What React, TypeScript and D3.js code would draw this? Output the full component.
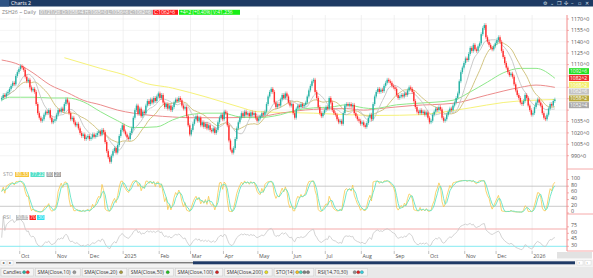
import React from "react";
import * as d3 from "d3";

// ---------- DATA ----------
const startDate = new Date(2024, 8, 13); // first bar (weekdays only)
const closes: number[] = [
  1066, 1070, 1068, 1072, 1074, 1078, 1082, 1086, 1084, 1095, 1100, 1104, 1108, 1106, 1103, 1094, 1088, 1090,
  1080, 1076, 1078, 1074, 1058, 1046, 1040, 1036, 1038, 1044, 1048, 1046, 1050, 1040, 1034, 1036, 1038,
  1044, 1050, 1048, 1052, 1049, 1058, 1064, 1060, 1046, 1038, 1040, 1034, 1030, 1032, 1026,
  1020, 1016, 1018, 1012, 1014, 1016, 1012, 1014, 1018, 1015, 1017, 1020, 1022, 1018, 1024, 1021,
  1008, 996, 988, 982, 990, 996, 1000, 994, 1004, 1016, 1024, 1030, 1022, 1018, 1014, 1012, 1020, 1026,
  1040, 1050, 1056, 1045, 1052, 1042, 1048, 1046, 1056, 1062, 1058, 1064, 1060, 1066, 1062,
  1068, 1072, 1066, 1070, 1060, 1054, 1058, 1052, 1056, 1050, 1054, 1060, 1064, 1062, 1066, 1063,
  1056, 1052, 1054, 1042, 1030, 1018, 1024, 1032, 1038, 1042, 1036, 1040, 1030, 1034, 1028, 1032,
  1026, 1030, 1024, 1022, 1026, 1020, 1024, 1034, 1040, 1044, 1038, 1048, 1046, 1030, 1010,
  998, 994, 1000, 1012, 1026, 1034, 1040, 1046, 1042, 1048, 1044, 1046, 1042, 1047, 1044, 1046,
  1040, 1036, 1039, 1042, 1046, 1044, 1048, 1058, 1068, 1074, 1078, 1074, 1060, 1054, 1058, 1056,
  1064, 1070, 1066, 1072, 1068, 1060, 1056, 1058, 1046, 1040, 1052, 1056, 1054, 1058, 1055, 1057, 1060,
  1068, 1076, 1082, 1088, 1090, 1074, 1066, 1054, 1046, 1042, 1046, 1050, 1054, 1052, 1066, 1060,
  1050, 1046, 1044, 1038, 1034, 1036, 1032, 1046, 1056, 1058, 1056, 1058, 1055, 1057, 1046, 1042, 1038,
  1036, 1032, 1034, 1030, 1028, 1033, 1040, 1044, 1038, 1058, 1068, 1074, 1078, 1074, 1077, 1075,
  1082, 1086, 1090, 1088, 1086, 1082, 1080, 1078, 1070, 1066, 1068, 1070, 1068, 1072, 1070,
  1076, 1080, 1078, 1074, 1062, 1054, 1048, 1046, 1050, 1046, 1048, 1044, 1047, 1040, 1034, 1036,
  1044, 1048, 1052, 1050, 1054, 1051, 1040, 1036, 1038, 1044, 1048, 1052, 1050, 1056, 1060, 1066, 1072,
  1088, 1100, 1106, 1112, 1118, 1116, 1124, 1132, 1128, 1136, 1130, 1128, 1134, 1138, 1150, 1158, 1162,
  1146, 1140, 1136, 1132, 1130, 1134, 1138, 1142, 1146, 1140, 1128, 1120, 1112, 1106, 1100, 1096, 1098, 1094,
  1084, 1076, 1070, 1066, 1060, 1058, 1062, 1070, 1066, 1056, 1050, 1044, 1046, 1054, 1060, 1064, 1060, 1056,
  1046, 1040, 1038, 1044, 1052, 1058, 1056, 1062, 1064,
];

const sma50Idx = [0, 5, 12, 20, 31, 42, 52, 63, 74, 84, 99, 109, 120, 131, 141, 152, 163, 178, 188, 199, 210, 220, 231, 237, 252, 265, 288, 299, 310, 320, 331, 341, 353];
const sma50Val = [1063, 1067, 1067, 1067, 1066, 1066, 1061, 1048, 1036, 1027, 1028, 1037, 1044, 1046, 1046, 1041, 1040, 1044, 1050, 1053, 1054, 1057, 1053, 1052, 1057, 1059, 1063, 1074, 1087, 1099, 1105, 1105, 1092];
const sma100Idx = [0, 12, 20, 31, 42, 52, 63, 74, 84, 109, 120, 141, 163, 178, 199, 220, 231, 241, 262, 288, 310, 331, 341, 353];
const sma100Val = [1116, 1109, 1099, 1083, 1073, 1063, 1057, 1050, 1046, 1041, 1040, 1040, 1041, 1046, 1051, 1052, 1050, 1052, 1056, 1059, 1070, 1080, 1083, 1080];
const sma200Idx = [40, 63, 84, 88, 109, 131, 152, 163, 178, 199, 220, 241, 267, 280, 299, 320, 353];
const sma200Val = [1119, 1105, 1092, 1088, 1079, 1067, 1054, 1048, 1047, 1046, 1044, 1043, 1044, 1047, 1053, 1060, 1064];

const priceTicks = [1170, 1155, 1140, 1125, 1110, 1095, 1080, 1065, 1050, 1035, 1020, 1005, 990];
const stoTicks = [100, 80, 60, 40, 20, 0];
const rsiTicks = [75, 60, 45, 30];
const monthNames = ["Jan", "Feb", "Mar", "Apr", "May", "Jun", "Jul", "Aug", "Sep", "Oct", "Nov", "Dec"];

// last-value tags on the price axis (bottom-up)
const tagTexts = ["1052^4", "1058^2", "1062^6", "1068^2", "1082^2", "1092^6"];
const tagColors = ["#a9a9a9", "#b7a73e", "#c3c3c3", "#f3ee6c", "#ee3030", "#1fe01f"];

const headerSymbol = "ZSH26 ~ Daily";
const headerGrey = "01/21/26 O:1058^4 H:1065^0 L:1056^6 C:1062^6";
const headerRed = "C:1062^6";
const headerGreen = "+4^2 (+0.40%) V:41,236";
const stoHeader = ["80.33", "77.22", "80", "20"];
const rsiHeader = ["50.85", "70", "30"];

const legendItems: { label: string; dots: string[] }[] = [
  { label: "Candles", dots: ["#26b3a3", "#ff2e2e"] },
  { label: "SMA(Close,10)", dots: ["#9a9a9a"] },
  { label: "SMA(Close,20)", dots: ["#a89a3a"] },
  { label: "SMA(Close,50)", dots: ["#22c022"] },
  { label: "SMA(Close,100)", dots: ["#d02020"] },
  { label: "SMA(Close,200)", dots: ["#e8e020"] },
  { label: "STO(14)", dots: ["#f0c020", "#40d8c0", "#808080", "#808080"] },
  { label: "RSI(14,70,30)", dots: ["#909090", "#e02020", "#30d0e0"] },
];

// ---------- HELPERS ----------
function sma(arr: number[], n: number) {
  return arr.map((_, i) => {
    const s = Math.max(0, i - n + 1);
    return d3.mean(arr.slice(s, i + 1)) as number;
  });
}

const FONT = "'Open Sans', 'DejaVu Sans', sans-serif";

export default function App() {
  const N = closes.length;
  const dates: Date[] = [];
  {
    const d = new Date(startDate);
    while (dates.length < N) {
      const wd = d.getDay();
      if (wd !== 0 && wd !== 6) dates.push(new Date(d));
      d.setDate(d.getDate() + 1);
    }
  }
  const WICK = 2.5;
  const opens = closes.map((c, i) => (i === 0 ? c - 2 : closes[i - 1]));
  const highs = closes.map((c, i) => Math.max(c, opens[i]) + WICK);
  const lows = closes.map((c, i) => Math.min(c, opens[i]) - WICK);

  const sma10 = sma(closes, 10);
  const sma20 = sma(closes, 20);

  // Stochastic
  const kRaw = closes.map((c, i) => {
    const s = Math.max(0, i - 13);
    const hh = d3.max(highs.slice(s, i + 1)) as number;
    const ll = d3.min(lows.slice(s, i + 1)) as number;
    return hh === ll ? 50 : (100 * (c - ll)) / (hh - ll);
  });
  const kD = sma(kRaw, 3);

  // RSI (Wilder)
  const rsi: number[] = [];
  {
    let ag = 0, al = 0;
    for (let i = 0; i < N; i++) {
      if (i === 0) { rsi.push(50); continue; }
      const ch = closes[i] - closes[i - 1];
      const g = Math.max(ch, 0), l = Math.max(-ch, 0);
      const n = Math.min(i, 14);
      ag = (ag * (n - 1) + g) / n;
      al = (al * (n - 1) + l) / n;
      rsi.push(al === 0 ? 100 : 100 - 100 / (1 + ag / al));
    }
  }

  // ---------- SCALES ----------
  const plotRight = 567;
  const x = d3.scaleLinear().domain([0, 353]).range([1.7, 1.7 + 1.567 * 353]);
  const step = x(1) - x(0);
  const yP = d3.scaleLinear().domain([990, 1170]).range([155.7, 19]);
  const yS = d3.scaleLinear().domain([0, 100]).range([213, 179.5]);
  const yR = d3.scaleLinear().domain([30, 70]).range([246.3, 229]);

  const mainTop = 15, mainBot = 169, stoBot = 214, rsiBot = 251;

  const lineIdx = (vals: number[], yS_: (v: number) => number) =>
    d3.line<number>().x((_, i) => x(i)).y((v) => yS_(v))(vals) || "";
  const lineSparse = (idx: number[], vals: number[]) =>
    d3.line<number>().x((i) => x(i)).y((_, k) => yP(vals[k])).curve(d3.curveMonotoneX)(idx) || "";

  // months
  const months: { i: number; label: string }[] = [];
  for (let i = 1; i < N; i++) {
    if (dates[i].getMonth() !== dates[i - 1].getMonth()) {
      const m = dates[i].getMonth();
      months.push({ i, label: m === 0 ? String(dates[i].getFullYear()) : monthNames[m] });
    }
  }

  // tags placement
  const tagCenters = tagTexts.map((_, k) => 105.2 - k * 6.8);
  const tagTop = tagCenters[tagCenters.length - 1] - 3 - 3;
  const tagBottom = tagCenters[0] + 3 + 3;

  // legend layout
  let lx = 1;
  const legendLayout = legendItems.map((it) => {
    const w = it.label.length * 2.62 + it.dots.length * 3.6 + 7;
    const r = { ...it, x: lx, w };
    lx += w + 2;
    return r;
  });

  const fs = 5.3;

  return (
    <svg width={593} height={278} style={{ position: "absolute", left: 0, top: 0, fontFamily: FONT }}>
      <defs>
        <clipPath id="cMain"><rect x={0} y={mainTop} width={plotRight} height={mainBot - mainTop} /></clipPath>
        <clipPath id="cSto"><rect x={0} y={mainBot} width={plotRight} height={stoBot - mainBot} /></clipPath>
        <clipPath id="cRsi"><rect x={0} y={stoBot} width={plotRight} height={rsiBot - stoBot} /></clipPath>
      </defs>
      <rect x={0} y={0} width={593} height={278} fill="#ffffff" />

      {/* top bar */}
      <rect x={0} y={0} width={593} height={6.5} fill="#1d3a63" />
      <rect x={0} y={0} width={9} height={6.5} fill="#2d5283" />
      <text x={11} y={5.3} fontSize={5.2} fill="#ffffff">Charts 2</text>
      {["⚙", "⌄", "❐", "✣", "–", "▫", "✕"].map((s, k) => (
        <text key={k} x={543 + k * 7} y={5.4} fontSize={5} fill="#d8e0ea">{s}</text>
      ))}

      {/* header */}
      <text x={2} y={14} fontSize={fs} fill="#808080">{headerSymbol}</text>
      <rect x={39} y={9.8} width={114} height={5} fill="#c0c0c0" />
      <text x={40} y={14} fontSize={4.9} fill="#ffffff">{headerGrey}</text>
      <rect x={153} y={9.8} width={25} height={5} fill="#ff1a1a" />
      <text x={154} y={14} fontSize={4.9} fill="#ffffff">{headerRed}</text>
      <rect x={179} y={9.8} width={61} height={5} fill="#16ee16" />
      <text x={180} y={14} fontSize={4.9} fill="#ffffff">{headerGreen}</text>

      {/* grid */}
      {priceTicks.map((v) => (
        <line key={"h" + v} x1={0} x2={plotRight} y1={yP(v)} y2={yP(v)} stroke="#ececec" strokeWidth={0.6} />
      ))}
      {months.map((m) => (
        <line key={"v" + m.i} x1={x(m.i) - step / 2} x2={x(m.i) - step / 2} y1={mainTop} y2={rsiBot} stroke="#e8e8e8" strokeWidth={0.6} />
      ))}

      {/* main panel */}
      <g clipPath="url(#cMain)">
        <path d={lineSparse(sma200Idx, sma200Val)} fill="none" stroke="#f6f27a" strokeWidth={1} />
        <path d={lineSparse(sma100Idx, sma100Val)} fill="none" stroke="#ec8c8c" strokeWidth={1} />
        <path d={lineSparse(sma50Idx, sma50Val)} fill="none" stroke="#8ee88a" strokeWidth={1} />
        <path d={lineIdx(sma20, yP)} fill="none" stroke="#cdbd74" strokeWidth={0.9} />
        <path d={lineIdx(sma10, yP)} fill="none" stroke="#c4c4c4" strokeWidth={0.9} />
        {closes.map((c, i) => {
          const o = opens[i];
          const up = c >= o;
          const col = up ? "#27b2a4" : "#ff2e2e";
          const yt = yP(Math.max(o, c));
          const yb = yP(Math.min(o, c));
          return (
            <g key={i}>
              <line x1={x(i)} x2={x(i)} y1={yP(highs[i])} y2={yP(lows[i])} stroke={col} strokeWidth={0.5} />
              <rect x={x(i) - 0.7} width={1.4} y={yt} height={Math.max(0.7, yb - yt)} fill={col} />
            </g>
          );
        })}
      </g>

      {/* STO panel */}
      <g clipPath="url(#cSto)">
        <line x1={0} x2={plotRight} y1={yS(80)} y2={yS(80)} stroke="#bcbcbc" strokeWidth={0.8} />
        <line x1={0} x2={plotRight} y1={yS(20)} y2={yS(20)} stroke="#bcbcbc" strokeWidth={0.8} />
        <path d={lineIdx(kRaw, yS)} fill="none" stroke="#f9c94c" strokeWidth={0.8} />
        <path d={lineIdx(kD, yS)} fill="none" stroke="#62e4c4" strokeWidth={0.9} />
      </g>
      <text x={3} y={176.2} fontSize={fs} fill="#9a9a9a">STO</text>
      <rect x={15} y={172} width={14} height={5} fill="#f6c53a" />
      <text x={16} y={176.2} fontSize={4.8} fill="#fff">{stoHeader[0]}</text>
      <rect x={30.5} y={172} width={14} height={5} fill="#55e0c8" />
      <text x={31.5} y={176.2} fontSize={4.8} fill="#fff">{stoHeader[1]}</text>
      <rect x={46.5} y={172} width={6.5} height={5} fill="#a0a0a0" />
      <text x={47.2} y={176.2} fontSize={4.8} fill="#fff">{stoHeader[2]}</text>
      <rect x={54} y={172} width={7} height={5} fill="#a0a0a0" />
      <text x={54.8} y={176.2} fontSize={4.8} fill="#fff">{stoHeader[3]}</text>

      {/* RSI panel */}
      <g clipPath="url(#cRsi)">
        <line x1={0} x2={plotRight} y1={yR(70)} y2={yR(70)} stroke="#f4a2a2" strokeWidth={0.9} />
        <line x1={0} x2={plotRight} y1={yR(30)} y2={yR(30)} stroke="#78e8f0" strokeWidth={0.9} />
        <path d={lineIdx(rsi, yR)} fill="none" stroke="#c8c8c8" strokeWidth={0.8} />
      </g>
      <text x={3} y={219.2} fontSize={fs} fill="#9a9a9a">RSI</text>
      <rect x={16} y={215} width={12} height={5} fill="#bdbdbd" />
      <text x={16.8} y={219.2} fontSize={4.8} fill="#fff">{rsiHeader[0]}</text>
      <rect x={29.5} y={215} width={6.5} height={5} fill="#ff2020" />
      <text x={30.2} y={219.2} fontSize={4.8} fill="#fff">{rsiHeader[1]}</text>
      <rect x={37} y={215} width={7.5} height={5} fill="#2ee0f0" />
      <text x={38} y={219.2} fontSize={4.8} fill="#fff">{rsiHeader[2]}</text>

      {/* right axis */}
      <line x1={plotRight} x2={plotRight} y1={mainTop} y2={rsiBot} stroke="#f08080" strokeWidth={0.9} />
      {[mainBot, stoBot, rsiBot].map((yy) => (
        <line key={"s" + yy} x1={plotRight} x2={593} y1={yy} y2={yy} stroke="#f5a0a0" strokeWidth={0.9} />
      ))}
      {priceTicks.map((v) => (
        <g key={"pt" + v}>
          <line x1={plotRight} x2={plotRight + 2} y1={yP(v)} y2={yP(v)} stroke="#f08080" strokeWidth={0.6} />
          {(yP(v) < tagTop || yP(v) > tagBottom) && (
            <text x={571} y={yP(v) + 1.8} fontSize={fs} fill="#555">{v}^0</text>
          )}
        </g>
      ))}
      {stoTicks.map((v) => (
        <g key={"st" + v}>
          <line x1={plotRight} x2={plotRight + 2} y1={yS(v)} y2={yS(v)} stroke="#f08080" strokeWidth={0.6} />
          <text x={571} y={yS(v) + 0.3} fontSize={fs} fill="#555">{v}</text>
        </g>
      ))}
      {rsiTicks.map((v) => (
        <g key={"rt" + v}>
          <line x1={plotRight} x2={plotRight + 2} y1={yR(v)} y2={yR(v)} stroke="#f08080" strokeWidth={0.6} />
          <text x={571} y={yR(v) + 0.3} fontSize={fs} fill="#555">{v}</text>
        </g>
      ))}
      {tagTexts.map((t, k) => {
        const cy = tagCenters[k];
        return (
          <g key={"tag" + k}>
            <rect x={569} y={cy - 3} width={20} height={6} fill={tagColors[k]} />
            <text x={570} y={cy + 1.8} fontSize={5} fill="#ffffff">{t}</text>
          </g>
        );
      })}

      {/* date axis */}
      {months.map((m) => (
        <g key={"m" + m.i}>
          <line x1={x(m.i) - step / 2} x2={x(m.i) - step / 2} y1={rsiBot} y2={rsiBot + 3} stroke="#999" strokeWidth={0.6} />
          <text x={x(m.i) - step / 2 + 1.2} y={257.6} fontSize={fs} fill="#555">{m.label}</text>
        </g>
      ))}
      <rect x={557} y={252} width={35} height={6.5} fill="#e2e2e2" />

      {/* scrollbar */}
      <rect x={0} y={259.5} width={593} height={6.5} fill="#f2f2f2" />
      <rect x={1} y={260.5} width={5} height={4.5} fill="#ffffff" stroke="#cfcfcf" strokeWidth={0.4} />
      <text x={2.3} y={264.2} fontSize={4} fill="#333">◂</text>
      <rect x={8} y={260.5} width={5} height={4.5} fill="#ffffff" stroke="#cfcfcf" strokeWidth={0.4} />
      <text x={9.3} y={264.2} fontSize={4} fill="#333">▸</text>
      <line x1={16} x2={193} y1={262.8} y2={262.8} stroke="#222" strokeWidth={0.8} />
      <rect x={193} y={261.3} width={382} height={3} fill="#1f3a66" />
      <rect x={577} y={260.5} width={6} height={4.5} fill="#ffffff" stroke="#cfcfcf" strokeWidth={0.4} />
      <text x={578.6} y={264.2} fontSize={4} fill="#333">‹</text>
      <rect x={585} y={260.5} width={6} height={4.5} fill="#ffffff" stroke="#cfcfcf" strokeWidth={0.4} />
      <text x={586.6} y={264.2} fontSize={4} fill="#333">›</text>

      {/* legend */}
      <rect x={0} y={266.5} width={593} height={11.5} fill="#e9e9e9" />
      {legendLayout.map((it, k) => (
        <g key={"lg" + k}>
          <rect x={it.x} y={268.5} width={it.w} height={7.5} fill="#f5f5f5" stroke="#c9c9c9" strokeWidth={0.5} />
          <text x={it.x + 2} y={274} fontSize={5} fill="#333">{it.label}</text>
          {it.dots.map((c, j) => (
            <circle key={j} cx={it.x + 3 + it.label.length * 2.62 + 1.8 + j * 3.6} cy={272.2} r={1.6} fill={c} stroke="#555" strokeWidth={0.3} />
          ))}
        </g>
      ))}
    </svg>
  );
}
